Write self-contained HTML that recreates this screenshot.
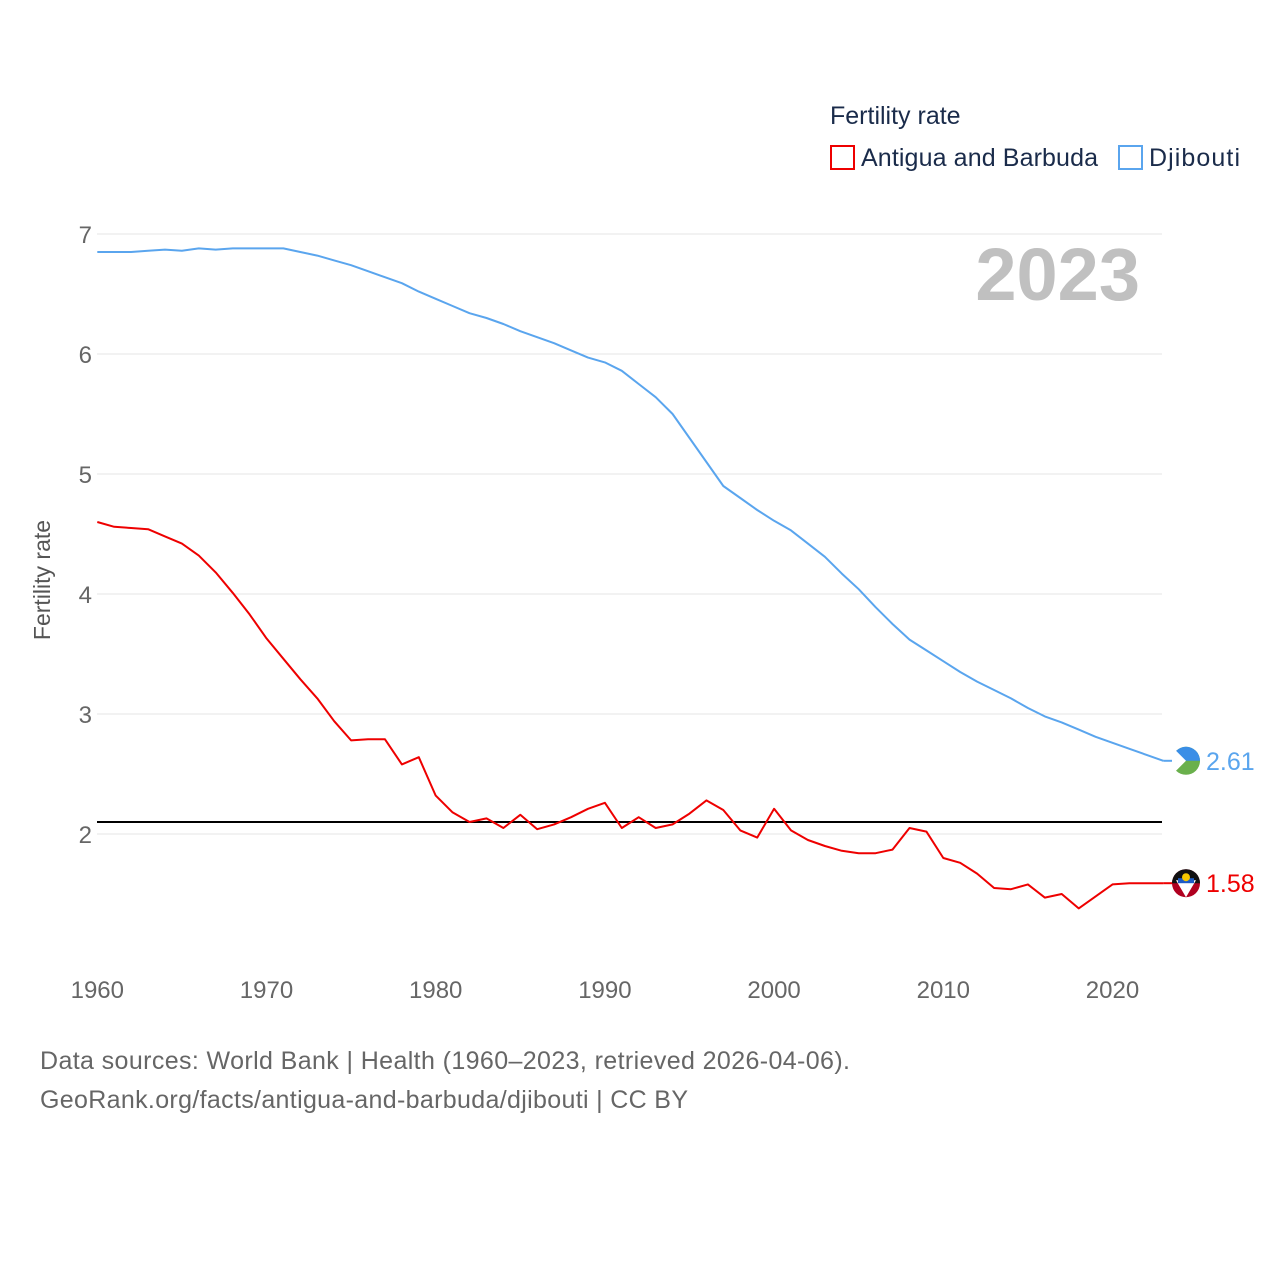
<!DOCTYPE html>
<html><head><meta charset="utf-8"><style>
body{margin:0;background:#fff;font-family:"Liberation Sans",sans-serif;}
</style></head><body>
<svg id="chart" width="1280" height="1280" xmlns="http://www.w3.org/2000/svg" style="font-family:'Liberation Sans',sans-serif">
<text x="830" y="124" font-size="25" fill="#1a2b4a">Fertility rate</text>
<g><rect x="831" y="146" width="23" height="23" fill="none" stroke="#e00" stroke-width="2"/><text x="861" y="166" font-size="25" fill="#1a2b4a" textLength="237">Antigua and Barbuda</text></g>
<g><rect x="1119" y="146" width="23" height="23" fill="none" stroke="#5aa5ee" stroke-width="2"/><text x="1149" y="166" font-size="25" fill="#1a2b4a" textLength="91">Djibouti</text></g>
<text x="1140" y="300" font-size="74" font-weight="bold" fill="#c0c0c0" text-anchor="end">2023</text>
<text transform="translate(50,580) rotate(-90)" font-size="23" fill="#555" text-anchor="middle">Fertility rate</text>
<g id="grid"></g><g id="yt"></g><g id="xt"></g><g id="lines"></g>
<text x="40" y="1069" font-size="25" fill="#666" textLength="810">Data sources: World Bank | Health (1960–2023, retrieved 2026-04-06).</text>
<text x="40" y="1108" font-size="25" fill="#666" textLength="648">GeoRank.org/facts/antigua-and-barbuda/djibouti | CC BY</text>
</svg>
<script>
const years=[];for(let y=1960;y<=2023;y++)years.push(y);
const antigua=[4.60,4.56,4.55,4.54,4.48,4.42,4.32,4.18,4.01,3.83,3.63,3.46,3.29,3.13,2.94,2.78,2.79,2.79,2.58,2.64,2.32,2.18,2.10,2.13,2.05,2.16,2.04,2.08,2.14,2.21,2.26,2.05,2.14,2.05,2.08,2.17,2.28,2.20,2.03,1.97,2.21,2.03,1.95,1.90,1.86,1.84,1.84,1.87,2.05,2.02,1.80,1.76,1.67,1.55,1.54,1.58,1.47,1.50,1.38,1.48,1.58,1.59,1.59,1.59];
const djibouti=[6.85,6.85,6.85,6.86,6.87,6.86,6.88,6.87,6.88,6.88,6.88,6.88,6.85,6.82,6.78,6.74,6.69,6.64,6.59,6.52,6.46,6.40,6.34,6.30,6.25,6.19,6.14,6.09,6.03,5.97,5.93,5.86,5.75,5.64,5.50,5.30,5.10,4.90,4.80,4.70,4.61,4.53,4.42,4.31,4.17,4.04,3.89,3.75,3.62,3.53,3.44,3.35,3.27,3.20,3.13,3.05,2.98,2.93,2.87,2.81,2.76,2.71,2.66,2.61];
const yTicks=[2,3,4,5,6,7];
const xTicks=[1960,1970,1980,1990,2000,2010,2020];
const replacement=2.1;
const labels=["1.58","2.61"];
const X=y=>97.3+(y-1960)*16.92, Y=v=>834-(v-2)*120;
const NS="http://www.w3.org/2000/svg";
function mk(t,a,p,txt){const e=document.createElementNS(NS,t);for(const k in a)e.setAttribute(k,a[k]);if(txt!==undefined)e.textContent=txt;p.appendChild(e);return e;}
const g=document.getElementById('grid'),yt=document.getElementById('yt'),xt=document.getElementById('xt'),L=document.getElementById('lines');
yTicks.forEach(v=>{const l=mk('line',{x1:97,x2:1162,y1:Y(v),y2:Y(v),stroke:'#e6e6e6','stroke-width':1},g);


const t=mk('text',{x:92,y:Y(v)+9,'font-size':24,fill:'#666','text-anchor':'end'},yt,String(v));

});
xTicks.forEach(v=>{const t=mk('text',{x:X(v),y:998,'font-size':24,fill:'#666','text-anchor':'middle'},xt,String(v));

});
const rl=mk('line',{x1:97,x2:1162,y1:Y(replacement),y2:Y(replacement),stroke:'#000','stroke-width':2},L);


function series(d,c,name,lab){const pts=d.map((v,i)=>X(years[i]).toFixed(1)+','+Y(v).toFixed(1)).join(' ');
const p=mk('polyline',{points:pts,fill:'none',stroke:c,'stroke-width':2,'stroke-linejoin':'round'},L);


const ly=Y(d[d.length-1]),lx=X(years[years.length-1]);
mk('line',{x1:lx,x2:lx+12,y1:ly,y2:ly,stroke:c,'stroke-width':2},L);
const f=mk('circle',{cx:1186,cy:ly,r:14,fill:name==='djibouti'?'#6ab04c':'#b00020'},L);


if(name==='djibouti'){mk('path',{d:`M1172 ${ly} A14 14 0 0 1 1200 ${ly} Z`,fill:'#3a8ee6'},L);mk('path',{d:`M1172 ${ly-14} L1186 ${ly} L1172 ${ly+14} Z`,fill:'#fff'},L);}
else{mk('path',{d:`M1172 ${ly} A14 14 0 0 1 1200 ${ly} Z`,fill:'#111'},L);mk('path',{d:`M1176 ${ly-3} L1196 ${ly-3} L1186 ${ly+14} Z`,fill:'#fff'},L);mk('rect',{x:1178,y:ly-5,width:16,height:5,fill:'#1e5bc6'},L);mk('circle',{cx:1186,cy:ly-6,r:4,fill:'#f6c700'},L);}
const t=mk('text',{x:1206,y:ly+9,'font-size':25,fill:c},L,lab);

}
series(djibouti,'#5aa5ee','djibouti',labels[1]);
series(antigua,'#ee0000','antigua',labels[0]);
</script>
</body></html>
